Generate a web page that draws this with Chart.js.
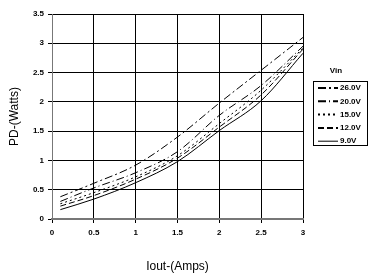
<!DOCTYPE html>
<html>
<head>
<meta charset="utf-8">
<script src="https://cdn.jsdelivr.net/npm/chart.js@4"></script>
<style>
    html, body { margin: 0; padding: 0; background: #fff; }
    #wrap { position: relative; width: 370px; height: 278px; }
</style>
</head>
<body>
<div id="wrap"><canvas id="pdChart" width="370" height="278"></canvas></div>
<script>
// Chart data
const iout = [0.1, 0.5, 1, 1.5, 2, 2.5, 3];
const vinLabels = ['26.0V', '20.0V', '15.0V', '12.0V', '9.0V'];
const pd26 = [0.38, 0.61, 0.92, 1.40, 1.98, 2.54, 3.10];
const pd20 = [0.30, 0.53, 0.79, 1.15, 1.77, 2.28, 2.95];
const pd15 = [0.26, 0.45, 0.72, 1.08, 1.63, 2.20, 2.92];
const pd12 = [0.22, 0.40, 0.68, 1.04, 1.57, 2.12, 2.90];
const pd9 = [0.16, 0.34, 0.62, 0.98, 1.51, 2.02, 2.83];
const xTicks = [0, 0.5, 1, 1.5, 2, 2.5, 3];
const yTicks = [0, 0.5, 1, 1.5, 2, 2.5, 3, 3.5];

const seriesValues = [pd26, pd20, pd15, pd12, pd9];
const dashes = [[8, 3, 2, 3], [8, 3, 1, 3], [2, 3], [6, 3], []];

const fontFamily = '"Liberation Sans", Arial, sans-serif';

// Legend drawn on the canvas, right of the plot
const vinLegend = {
    id: 'vinLegend',
    afterDraw(chart) {
        const ctx = chart.ctx;
        ctx.save();
        ctx.fillStyle = '#000';
        ctx.font = 'bold 8px ' + fontFamily;
        ctx.textAlign = 'center';
        ctx.textBaseline = 'middle';
        ctx.fillText('Vin', 336, 71);

        ctx.strokeStyle = '#000';
        ctx.lineWidth = 1;
        ctx.strokeRect(313.5, 81.5, 54, 64);

        chart.data.datasets.forEach((ds, i) => {
            const y = 88 + i * 13.3;
            ctx.setLineDash(ds.borderDash);
            ctx.lineWidth = ds.borderDash.length ? 2 : 1;
            ctx.beginPath();
            ctx.moveTo(318, y);
            ctx.lineTo(338, y);
            ctx.stroke();
            ctx.setLineDash([]);
            ctx.textAlign = 'left';
            ctx.fillText(ds.label, 340, y);
        });
        ctx.restore();
    }
};

const datasets = vinLabels.map((label, i) => ({
    label: label,
    data: iout.map((x, j) => ({ x: x, y: seriesValues[i][j] })),
    borderColor: '#000',
    borderWidth: 1,
    borderDash: dashes[i],
    pointRadius: 0,
    cubicInterpolationMode: 'monotone',
    fill: false
}));

new Chart(document.getElementById('pdChart'), {
    type: 'line',
    data: { datasets: datasets },
    options: {
        responsive: false,
        animation: false,
        layout: { padding: { left: 0, right: 67, top: 14, bottom: 0 } },
        plugins: {
            legend: { display: false },
            tooltip: { enabled: false }
        },
        scales: {
            x: {
                type: 'linear',
                min: 0,
                max: 3,
                afterBuildTicks: scale => { scale.ticks = xTicks.map(v => ({ value: v })); },
                afterFit: scale => { scale.height = 59; },
                grid: { color: '#000', lineWidth: 1, tickLength: 4 },
                border: { color: '#777', width: 2 },
                ticks: {
                    color: '#000',
                    padding: 5,
                    maxRotation: 0,
                    callback: v => String(v),
                    font: { family: fontFamily, size: 8, weight: 'bold' }
                },
                title: {
                    display: true,
                    text: 'Iout-(Amps)',
                    color: '#000',
                    padding: { top: 0, bottom: 4 },
                    font: { family: fontFamily, size: 12 }
                }
            },
            y: {
                min: 0,
                max: 3.5,
                afterBuildTicks: scale => { scale.ticks = yTicks.map(v => ({ value: v })); },
                afterFit: scale => { scale.width = 52; },
                grid: { color: '#000', lineWidth: 1, tickLength: 4 },
                border: { color: '#777', width: 1 },
                ticks: {
                    color: '#000',
                    padding: 4,
                    callback: v => String(v),
                    font: { family: fontFamily, size: 8, weight: 'bold' }
                },
                title: {
                    display: true,
                    text: 'PD-(Watts)',
                    color: '#000',
                    padding: { top: 7, bottom: 0 },
                    font: { family: fontFamily, size: 12 }
                }
            }
        }
    },
    plugins: [vinLegend]
});
</script>
</body>
</html>
